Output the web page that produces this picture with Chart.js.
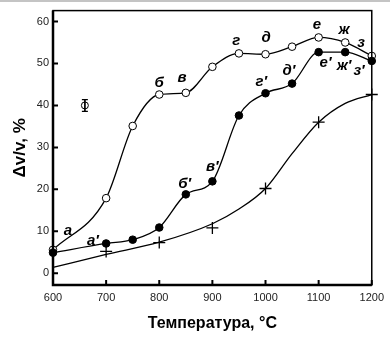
<!DOCTYPE html>
<html>
<head>
<meta charset="utf-8">
<script src="https://cdn.jsdelivr.net/npm/chart.js@4"></script>
<style>
  html, body { margin: 0; padding: 0; background: #fff; }
  #wrap { width: 390px; height: 339px; position: relative; }
</style>
</head>
<body>
<div id="wrap"><canvas id="c"></canvas></div>
<script>
// температура, °C
const temps = [600, 700, 750, 800, 850, 900, 950, 1000, 1050, 1100, 1150, 1200];
// кривая а..з (светлые точки)
const openVals = [5.6, 17.9, 35.1, 42.6, 43.0, 49.2, 52.4, 52.2, 54.0, 56.2, 55.0, 51.8];
// кривая а'..з' (темные точки)
const filledVals = [4.9, 7.1, 8.0, 10.9, 18.8, 21.9, 37.6, 42.9, 45.2, 52.7, 52.7, 50.6];

// крестики и сглаженная кривая через них
const crossT = [700, 800, 900, 1000, 1100, 1200];
const crossVals = [5.2, 7.3, 10.8, 20.2, 36.0, 42.6];
const fitT = [600, 700, 800, 900, 950, 1000, 1050, 1100, 1150, 1200];
const fitVals = [1.4, 4.5, 7.4, 11.8, 15.3, 20.2, 28.5, 36.0, 40.5, 42.6];

// точка с погрешностью
const errT = 660, errVal = 40, errDelta = 1.4;

// подписи к точкам
const letterText = ['а', 'б', 'в', 'г', 'д', 'е', 'ж', 'з',
                    'а′', 'б′', 'в′', 'г′', 'д′', 'е′', 'ж′', 'з′'];
const letterT = [628, 800, 843, 945, 1001, 1097, 1148, 1180,
                 675, 848, 900, 992, 1044, 1113, 1148, 1176];
const letterV = [10.1, 45.4, 46.6, 55.3, 56.0, 59.3, 58.1, 54.8,
                 7.8, 21.2, 25.4, 45.6, 48.2, 50.1, 49.4, 48.2];

const yTicks = [0, 10, 20, 30, 40, 50, 60];
const xTicks = [600, 700, 800, 900, 1000, 1100, 1200];

const pts = (xs, ys) => xs.map((x, i) => ({ x, y: ys[i] }));

const framePlugin = {
  id: 'frame',
  beforeDraw(chart) {
    const ctx = chart.ctx;
    ctx.save();
    ctx.fillStyle = '#c4c4c4';
    ctx.fillRect(0, 0, chart.width, 2);
    ctx.restore();
  },
  afterDatasetsDraw(chart) {
    const { ctx, chartArea: a, scales } = chart;
    ctx.save();
    ctx.strokeStyle = '#000';
    ctx.lineWidth = 1.5;
    ctx.strokeRect(a.left, a.top, a.right - a.left, a.bottom - a.top);
    ctx.lineWidth = 2.5;
    ctx.beginPath();
    ctx.moveTo(a.left, a.top);
    ctx.lineTo(a.left, a.bottom);
    ctx.lineTo(a.right, a.bottom);
    ctx.stroke();
    // засечки внутрь
    ctx.lineWidth = 2;
    ctx.beginPath();
    yTicks.forEach((v) => {
      const y = scales.y.getPixelForValue(v);
      ctx.moveTo(a.left, y);
      ctx.lineTo(a.left + 5, y);
    });
    xTicks.forEach((v) => {
      const x = scales.x.getPixelForValue(v);
      ctx.moveTo(x, a.bottom);
      ctx.lineTo(x, a.bottom - 5);
    });
    ctx.stroke();

    // буквенные подписи
    ctx.fillStyle = '#000';
    ctx.font = 'italic bold 15px "Liberation Sans", Arial, sans-serif';
    ctx.textAlign = 'center';
    ctx.textBaseline = 'middle';
    letterText.forEach((t, i) => {
      ctx.fillText(t, scales.x.getPixelForValue(letterT[i]), scales.y.getPixelForValue(letterV[i]));
    });
    ctx.restore();
  }
};

const lineBase = {
  borderColor: '#000',
  borderWidth: 1.3,
  cubicInterpolationMode: 'monotone',
  clip: false,
};

new Chart(document.getElementById('c'), {
  type: 'line',
  data: {
    datasets: [
      {
        ...lineBase,
        data: pts(fitT, fitVals),
        pointRadius: 0,
      },
      {
        data: pts(crossT, crossVals),
        showLine: false,
        pointStyle: 'cross',
        pointRadius: 6,
        borderColor: '#000',
        borderWidth: 1.3,
        clip: false,
      },
      {
        ...lineBase,
        data: pts(temps, filledVals),
        pointRadius: 3.8,
        pointBackgroundColor: '#000',
        pointBorderColor: '#000',
        pointBorderWidth: 1,
      },
      {
        ...lineBase,
        data: pts(temps, openVals),
        pointRadius: 3.8,
        pointBackgroundColor: '#fff',
        pointBorderColor: '#000',
        pointBorderWidth: 1,
      },
      {
        data: [{ x: errT, y: errVal + errDelta }, { x: errT, y: errVal - errDelta }],
        showLine: true,
        borderColor: '#000',
        borderWidth: 1,
        pointStyle: 'line',
        pointRadius: 3,
        pointBorderColor: '#000',
        pointBorderWidth: 1.3,
      },
      {
        data: [{ x: errT, y: errVal }],
        showLine: false,
        pointRadius: 3.5,
        pointBackgroundColor: '#fff',
        pointBorderColor: '#000',
        pointBorderWidth: 1,
      },
    ],
  },
  options: {
    responsive: true,
    maintainAspectRatio: false,
    animation: false,
    layout: { padding: { top: 7, right: 17, left: 0, bottom: 0 } },
    plugins: { legend: { display: false }, tooltip: { enabled: false } },
    scales: {
      x: {
        type: 'linear',
        min: 600,
        max: 1200,
        afterBuildTicks: (s) => { s.ticks = xTicks.map((v) => ({ value: v })); },
        afterFit: (s) => { s.height = 54; },
        grid: { display: false, drawTicks: false },
        border: { display: false },
        ticks: {
          padding: 6,
          color: '#222',
          callback: (v) => String(v),
          font: { family: '"Liberation Sans", Arial, sans-serif', size: 11 },
        },
        title: {
          display: true,
          text: 'Температура, °C',
          color: '#000',
          padding: { top: 0, bottom: 6 },
          font: { family: '"Liberation Sans", Arial, sans-serif', size: 16, weight: 'bold', lineHeight: 1.2 },
        },
      },
      y: {
        min: -2.8,
        max: 62.6,
        afterBuildTicks: (s) => { s.ticks = yTicks.map((v) => ({ value: v })); },
        afterFit: (s) => { s.width = 53; },
        grid: { display: false, drawTicks: false },
        border: { display: false },
        ticks: {
          padding: 4,
          color: '#222',
          callback: (v) => String(v),
          font: { family: '"Liberation Sans", Arial, sans-serif', size: 11 },
        },
        title: {
          display: true,
          text: 'Δv/v, %',
          color: '#000',
          padding: { top: 10, bottom: 0 },
          font: { family: '"Liberation Sans", Arial, sans-serif', size: 17, weight: 'bold', lineHeight: 1.2 },
        },
      },
    },
  },
  plugins: [framePlugin],
});
</script>
</body>
</html>
